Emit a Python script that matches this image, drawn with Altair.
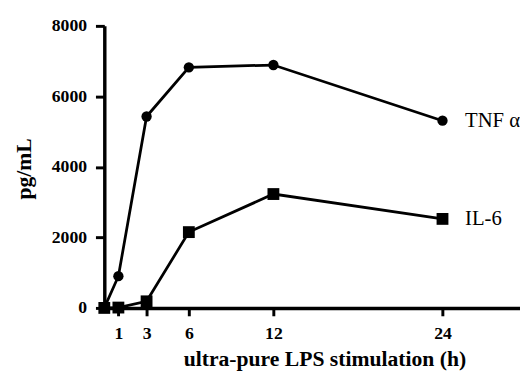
import altair as alt
import pandas as pd

hours = [0, 1, 3, 6, 12, 24]
tnf = [0, 900, 5430, 6825, 6890, 5310]
il6 = [0, 10, 187, 2150, 3230, 2525]
series_names = ["TNF α", "IL-6"]
x_ticks = [1, 3, 6, 12, 24]
y_ticks = [0, 2000, 4000, 6000, 8000]

df = pd.DataFrame({
    "h": hours * 2,
    "v": tnf + il6,
    "s": [series_names[0]] * len(hours) + [series_names[1]] * len(hours),
})
lab = pd.DataFrame({"h": [hours[-1], hours[-1]], "v": [tnf[-1], il6[-1]], "s": series_names})

FONT = "Liberation Serif, Times New Roman, serif"
xs = alt.Scale(domain=[0, 29.5], nice=False, zero=False)
ys = alt.Scale(domain=[0, 8000], nice=False)
x = alt.X("h:Q", scale=xs,
          axis=alt.Axis(values=x_ticks, title="ultra-pure LPS stimulation (h)", format="d",
                        tickSize=8, labelPadding=9, titleFontSize=22,
                        titleX=224, titleY=59, titleAlign="center", titleBaseline="alphabetic"))
y = alt.Y("v:Q", scale=ys,
          axis=alt.Axis(values=y_ticks, title="pg/mL", format="d", tickSize=9, labelPadding=9,
                        titleFontSize=22, titleX=-82, titleY=145, titleAlign="center",
                        titleBaseline="middle", titleAngle=270))

base = alt.Chart(df).encode(x=x, y=y, detail="s:N")
line = base.mark_line(color="black", strokeWidth=2.8)
pts = base.mark_point(filled=True, color="black", opacity=1).encode(
    shape=alt.Shape("s:N", scale=alt.Scale(domain=series_names, range=["circle", "square"]), legend=None),
    size=alt.Size("s:N", scale=alt.Scale(domain=series_names, range=[110, 145]), legend=None),
)
txt = alt.Chart(lab).mark_text(align="left", baseline="middle", dx=23, font=FONT,
                               fontSize=21, color="black").encode(x=x, y=y, text="s:N")

chart = (line + pts + txt).properties(
    width=423, height=287,
    autosize=alt.AutoSizeParams(type="none"),
    padding={"left": 98, "top": 15, "right": 0, "bottom": 61},
).configure_view(stroke=None).configure_axis(
    grid=False, domainWidth=3.5, tickWidth=3, domainColor="black", tickColor="black",
    labelFont=FONT, labelFontWeight="bold", labelFontSize=18, labelColor="black",
    titleFont=FONT, titleFontWeight="bold", titleColor="black",
)

chart.save("out.html", embed_options={"renderer": "svg", "actions": False})
